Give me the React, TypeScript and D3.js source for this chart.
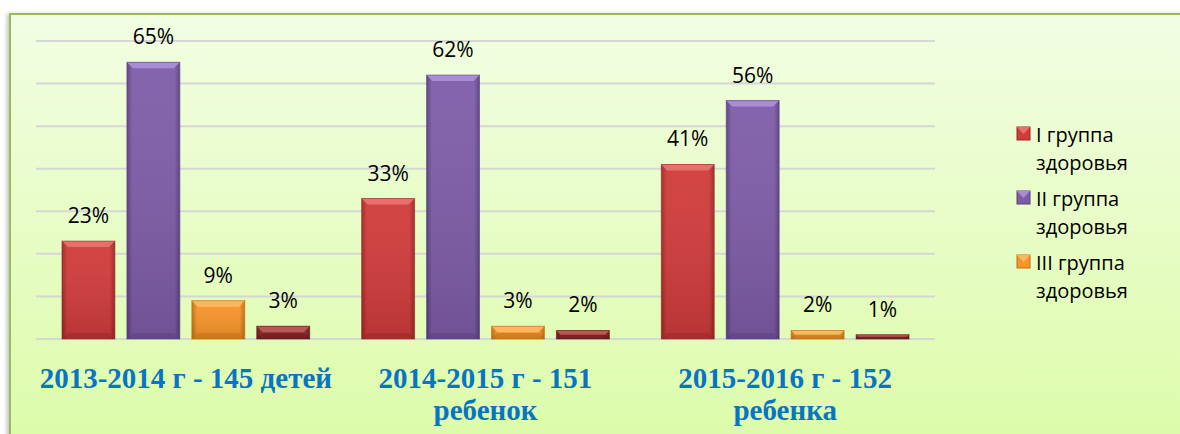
import React from "react";
import * as d3 from "d3";

const categories = ["2013-2014 г - 145 детей", "2014-2015 г - 151 ребенок", "2015-2016 г - 152 ребенка"];
const categoryLines = [["2013-2014 г - 145 детей"], ["2014-2015 г - 151", "ребенок"], ["2015-2016 г - 152", "ребенка"]];
const seriesNames = ["I группа здоровья", "II группа здоровья", "III группа здоровья", "IV группа здоровья"];
const legendLines = [["I группа", "здоровья"], ["II группа", "здоровья"], ["III группа", "здоровья"]];
const values = [
  [23, 33, 41],
  [65, 62, 56],
  [9, 3, 2],
  [3, 2, 1],
];
const yTicks = [0, 10, 20, 30, 40, 50, 60, 70];

const palette = [
  { main: "#d13b3b", light: "#e8706c", dark: "#9c2626" },
  { main: "#7e5ca8", light: "#a88dd6", dark: "#5a3f80" },
  { main: "#f7952a", light: "#fcb860", dark: "#c46d12" },
  { main: "#902c2c", light: "#bd5656", dark: "#661818" },
];

export default function App() {
  const W = 1180, H = 434;
  const x0 = 36, x1 = 935;
  const yScale = d3.scaleLinear().domain([0, 70]).range([339, 41]);
  const xBand = d3.scaleBand().domain(categories).range([x0, x1]).paddingInner(0).paddingOuter(0);
  const xInner = d3.scaleBand().domain(seriesNames).range([0, xBand.bandwidth()]).paddingInner(0.1846).paddingOuter(0.4);
  const bw = xInner.bandwidth();
  const fontSans = "'Open Sans', 'Noto Sans', sans-serif";

  return (
    <svg width={W} height={H} style={{ position: "absolute", left: 0, top: 0 }} xmlns="http://www.w3.org/2000/svg">
      <defs>
        <linearGradient id="bg" x1="0" y1="0" x2="0" y2="1">
          <stop offset="0" stopColor="#f2fde3" />
          <stop offset="1" stopColor="#dbfca6" />
        </linearGradient>
        {palette.map((p, i) => (
          <linearGradient key={i} id={`bar${i}`} x1="0" y1="0" x2="1" y2="0">
            <stop offset="0" stopColor={p.dark} />
            <stop offset="0.1" stopColor={p.main} />
            <stop offset="0.9" stopColor={p.main} />
            <stop offset="1" stopColor={p.dark} />
          </linearGradient>
        ))}
        {palette.map((p, i) => (
          <linearGradient key={i} id={`barv${i}`} x1="0" y1="0" x2="0" y2="1">
            <stop offset="0" stopColor="#ffffff" stopOpacity="0.05" />
            <stop offset="1" stopColor="#000000" stopOpacity="0.12" />
          </linearGradient>
        ))}
        <filter id="shadow" x="-10%" y="-10%" width="120%" height="120%">
          <feDropShadow dx="-2" dy="1" stdDeviation="2" floodColor="#000" floodOpacity="0.25" />
        </filter>
      </defs>
      <rect x={0} y={0} width={W} height={H} fill="#ffffff" />
      <rect x={10} y={14} width={W + 20} height={H + 20} fill="url(#bg)" stroke="#9bbb59" strokeWidth={2} filter="url(#shadow)" />

      {yTicks.map((t) => (
        <line key={t} x1={x0} x2={x1} y1={yScale(t)} y2={yScale(t)} stroke="#d6d6d6" strokeWidth={2} />
      ))}

      {categories.map((c, ci) => (
        <g key={c} transform={`translate(${xBand(c)},0)`}>
          {seriesNames.map((s, si) => {
            const v = values[si][ci];
            const bx = xInner(s)!;
            const top = yScale(v);
            const base = yScale(0);
            const h = base - top;
            const bev = Math.min(6, h / 2);
            const p = palette[si];
            return (
              <g key={s}>
                <rect x={bx} y={top} width={bw} height={h} fill={`url(#bar${si})`} />
                <rect x={bx} y={top} width={bw} height={h} fill={`url(#barv${si})`} />
                <path d={`M${bx},${top}L${bx + bw},${top}L${bx + bw - bev},${top + bev}L${bx + bev},${top + bev}Z`} fill={p.light} />
                <path d={`M${bx},${base}L${bx + bw},${base}L${bx + bw - bev},${base - bev}L${bx + bev},${base - bev}Z`} fill={p.dark} opacity={0.5} />
                <rect x={bx} y={top} width={bw} height={h} fill="none" stroke={p.dark} strokeWidth={1} opacity={0.6} />
                <text x={bx + bw / 2} y={top - 18} textAnchor="middle" fontFamily={fontSans} fontSize={21} fill="#000">
                  {`${v}%`}
                </text>
              </g>
            );
          })}
          {categoryLines[ci].map((ln, li) => (
            <text key={li} x={xBand.bandwidth() / 2} y={388 + li * 32} textAnchor="middle"
              fontFamily="'Liberation Serif', 'Times New Roman', serif" fontWeight="bold" fontSize={29} fill="#0a74c4">
              {ln}
            </text>
          ))}
        </g>
      ))}

      {legendLines.map((lines, i) => {
        const ly = 127 + i * 64;
        const p = palette[i];
        return (
          <g key={i}>
            <rect x={1017} y={ly} width={13} height={13} fill={p.main} stroke={p.dark} strokeWidth={1} />
            <path d={`M${1017},${ly}L${1030},${ly}L${1023.5},${ly + 7}Z`} fill={p.light} />
            {lines.map((ln, li) => (
              <text key={li} x={1036} y={ly + 15 + li * 28} fontFamily={fontSans} fontSize={20} fill="#000">
                {ln}
              </text>
            ))}
          </g>
        );
      })}
    </svg>
  );
}
